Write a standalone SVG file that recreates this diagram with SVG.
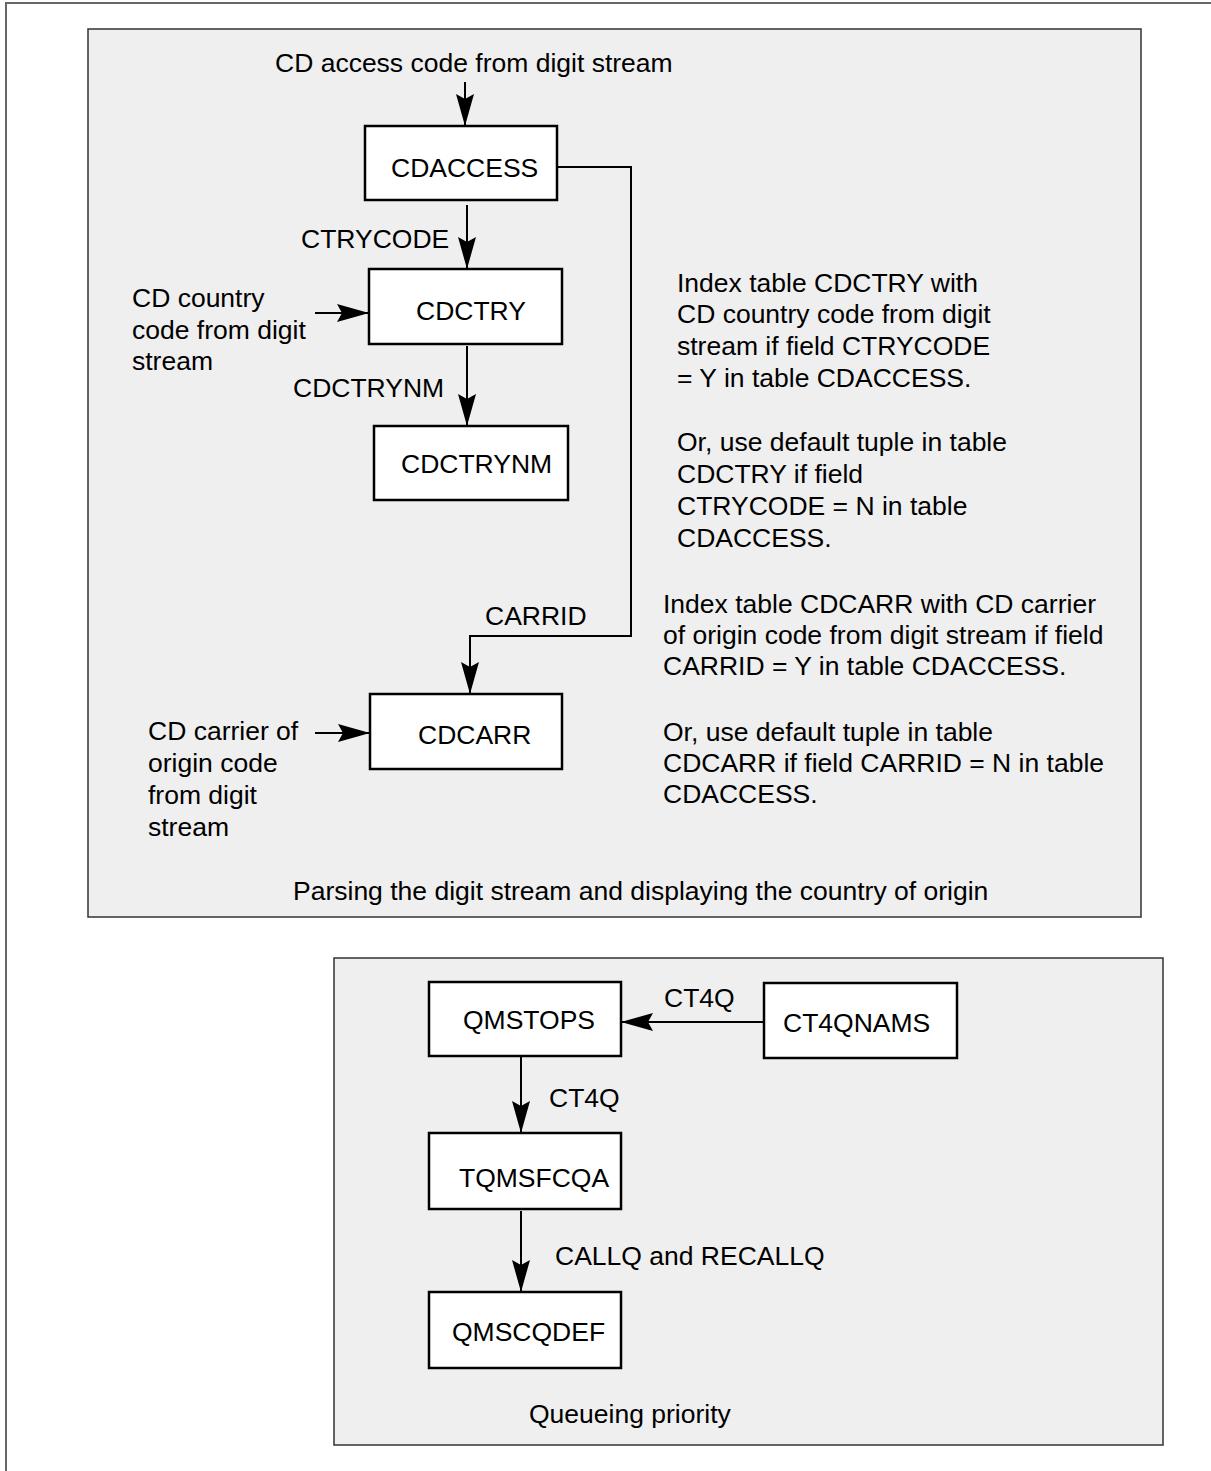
<svg xmlns="http://www.w3.org/2000/svg" width="1211" height="1471" viewBox="0 0 1211 1471">
<style>
text { font-family: "Liberation Sans", Arial, sans-serif; font-size: 26.5px; fill: #000; }
.panel { fill: #efefef; stroke: #333; stroke-width: 1.5; }
.box { fill: #fff; stroke: #000; stroke-width: 2.5; }
.conn { fill: none; stroke: #000; stroke-width: 2; }
.arr { marker-end: url(#ah); }
</style>
<defs>
<marker id="ah" markerUnits="userSpaceOnUse" markerWidth="32" markerHeight="18" refX="32" refY="9" orient="auto">
<path d="M0,0 L32,9 L0,18 L5,9 z" fill="#000"/>
</marker>
</defs>
<rect width="1211" height="1471" fill="#fff"/>
<path d="M6,1471 L6,3 L1211,3" fill="none" stroke="#666" stroke-width="2"/>

<g id="panel-top">
<rect class="panel" x="88" y="29" width="1053" height="888"/>
<text x="293" y="900">Parsing the digit stream and displaying the country of origin</text>
</g>
<g id="panel-bottom">
<rect class="panel" x="334" y="958" width="829" height="487"/>
<text x="529" y="1423">Queueing priority</text>
</g>

<g id="connectors">
<line class="conn arr" x1="465" y1="82" x2="465" y2="126"/>
<line class="conn arr" x1="467" y1="205" x2="467" y2="269"/>
<line class="conn arr" x1="315" y1="313" x2="369" y2="313"/>
<line class="conn arr" x1="467" y1="346" x2="467" y2="426"/>
<polyline class="conn arr" points="557,167 631,167 631,636 470,636 470,694"/>
<line class="conn arr" x1="315" y1="733" x2="370" y2="733"/>
<line class="conn arr" x1="764" y1="1022" x2="621" y2="1022"/>
<line class="conn arr" x1="521" y1="1057" x2="521" y2="1133"/>
<line class="conn arr" x1="521" y1="1211" x2="521" y2="1292"/>
<text x="301" y="248">CTRYCODE</text>
<text x="293" y="397">CDCTRYNM</text>
<text x="485" y="625">CARRID</text>
<text x="664" y="1007">CT4Q</text>
<text x="549" y="1107">CT4Q</text>
<text x="555" y="1265">CALLQ and RECALLQ</text>
</g>

<g id="src-access">
<text x="275" y="72">CD access code from digit stream</text>
</g>
<g id="CDACCESS">
<rect class="box" x="365" y="126" width="192" height="74"/>
<text x="391" y="177">CDACCESS</text>
</g>
<g id="src-country">
<text x="132" y="307">CD country</text>
<text x="132" y="339">code from digit</text>
<text x="132" y="370">stream</text>
</g>
<g id="CDCTRY">
<rect class="box" x="369" y="269" width="193" height="75"/>
<text x="416" y="320">CDCTRY</text>
</g>
<g id="CDCTRYNM">
<rect class="box" x="374" y="426" width="194" height="74"/>
<text x="401" y="473">CDCTRYNM</text>
</g>
<g id="note-ctry">
<text x="677" y="292">Index table CDCTRY with</text>
<text x="677" y="323">CD country code from digit</text>
<text x="677" y="355">stream if field CTRYCODE</text>
<text x="677" y="387">= Y in table CDACCESS.</text>
<text x="677" y="451">Or, use default tuple in table</text>
<text x="677" y="483">CDCTRY if field</text>
<text x="677" y="515">CTRYCODE = N in table</text>
<text x="677" y="547">CDACCESS.</text>
</g>
<g id="note-carr">
<text x="663" y="613">Index table CDCARR with CD carrier</text>
<text x="663" y="644">of origin code from digit stream if field</text>
<text x="663" y="675">CARRID = Y in table CDACCESS.</text>
<text x="663" y="741">Or, use default tuple in table</text>
<text x="663" y="772">CDCARR if field CARRID = N in table</text>
<text x="663" y="803">CDACCESS.</text>
</g>
<g id="src-carrier">
<text x="148" y="740">CD carrier of</text>
<text x="148" y="772">origin code</text>
<text x="148" y="804">from digit</text>
<text x="148" y="836">stream</text>
</g>
<g id="CDCARR">
<rect class="box" x="370" y="694" width="192" height="75"/>
<text x="418" y="744">CDCARR</text>
</g>

<g id="QMSTOPS">
<rect class="box" x="429" y="982" width="192" height="74"/>
<text x="463" y="1029">QMSTOPS</text>
</g>
<g id="CT4QNAMS">
<rect class="box" x="764" y="983" width="193" height="75"/>
<text x="783" y="1032">CT4QNAMS</text>
</g>
<g id="TQMSFCQA">
<rect class="box" x="429" y="1133" width="192" height="76"/>
<text x="459" y="1187">TQMSFCQA</text>
</g>
<g id="QMSCQDEF">
<rect class="box" x="429" y="1292" width="192" height="76"/>
<text x="452" y="1341">QMSCQDEF</text>
</g>
</svg>
